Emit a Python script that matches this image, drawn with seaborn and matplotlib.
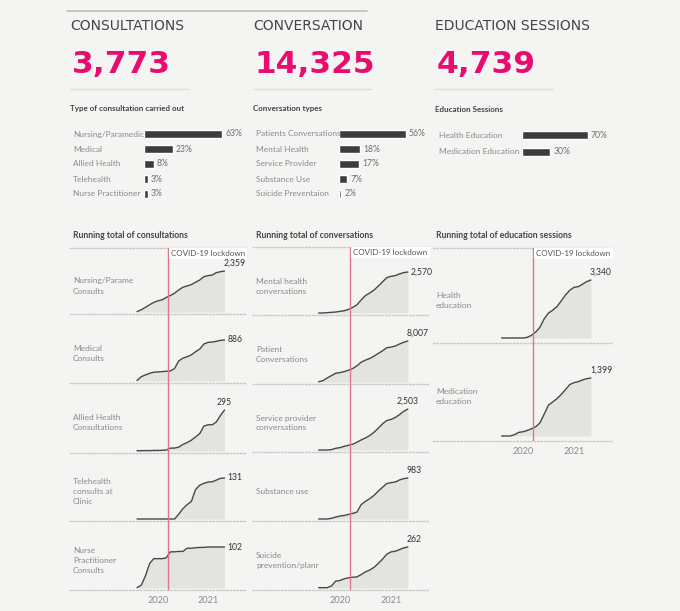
import numpy as np
import pandas as pd
import matplotlib
matplotlib.use("Agg")
import matplotlib.pyplot as plt
import matplotlib.dates as mdates
import matplotlib.transforms as mtransforms
from matplotlib.lines import Line2D
import seaborn as sns

# ---------------- data ----------------
kpi_titles = ["CONSULTATIONS", "CONVERSATION", "EDUCATION SESSIONS"]
kpi_values = ["3,773", "14,325", "4,739"]

bar_titles = ["Type of consultation carried out", "Conversation types", "Education Sessions"]
consult_types = ["Nursing/Paramedic", "Medical", "Allied Health", "Telehealth", "Nurse Practitioner"]
consult_pct = [63, 23, 8, 3, 3]
conv_types = ["Patients Conversations", "Mental Health", "Service Provider", "Substance Use", "Suicide Preventaion"]
conv_pct = [56, 18, 17, 7, 2]
edu_types = ["Health Education", "Medication Education"]
edu_pct = [70, 30]

run_titles = ["Running total of consultations", "Running total of conversations",
              "Running total of education sessions"]
months = ["2019-08", "2019-09", "2019-10", "2019-11", "2019-12", "2020-01", "2020-02",
          "2020-03", "2020-04", "2020-05", "2020-06", "2020-07", "2020-08", "2020-09",
          "2020-10", "2020-11", "2020-12", "2021-01", "2021-02", "2021-03", "2021-04", "2021-05"]
lockdown_date = "2020-03-16"
lockdown_label = "COVID-19 lockdown"
year_ticks = ["2020-01-01", "2021-01-01"]
year_labels = ["2020", "2021"]

col1_labels = ["Nursing/Parame\nConsults", "Medical\nConsults", "Allied Health\nConsultations",
               "Telehealth\nconsults at\nClinic", "Nurse\nPractitioner\nConsults"]
nursing = [20, 133, 266, 418, 551, 646, 703, 836, 950, 1083, 1273, 1425, 1501, 1577, 1710, 1843, 2033, 2090, 2128, 2261, 2318, 2359]
medical = [10, 94, 131, 167, 189, 196, 203, 211, 218, 269, 436, 494, 523, 566, 632, 690, 799, 835, 842, 857, 879, 886]
allied = [2, 2, 3, 3, 4, 4, 5, 7, 21, 21, 28, 47, 61, 78, 101, 125, 179, 189, 189, 208, 255, 295]
telehealth = [0, 0, 0, 0, 0, 0, 0, 0, 0, 0, 16, 33, 46, 56, 94, 108, 114, 118, 119, 124, 130, 131]
nurse_pr = [1, 7, 30, 61, 73, 73, 73, 75, 90, 90, 91, 91, 99, 99, 100, 101, 101, 102, 102, 102, 102, 102]

col2_labels = ["Mental health\nconversations", "Patient\nConversations", "Service provider\nconversations",
               "Substance use", "Suicide\nprevention/planr"]
mental = [0, 0, 21, 41, 62, 103, 144, 226, 349, 514, 823, 1090, 1254, 1439, 1686, 1953, 2220, 2303, 2344, 2447, 2529, 2570]
patient = [30, 262, 787, 1246, 1706, 1837, 2034, 2296, 2624, 3149, 3871, 4264, 4592, 5051, 5576, 6101, 6691, 6822, 7019, 7413, 7741, 8007]
service = [0, 0, 0, 21, 103, 144, 226, 287, 349, 472, 615, 738, 881, 1087, 1333, 1599, 1804, 1866, 1989, 2153, 2358, 2503]
substance = [0, 0, 0, 16, 47, 71, 86, 110, 134, 165, 346, 424, 487, 566, 668, 762, 849, 873, 888, 935, 967, 983]
suicide = [2, 2, 2, 13, 44, 48, 59, 65, 69, 71, 86, 103, 115, 132, 157, 185, 216, 231, 235, 245, 256, 262]

col3_labels = ["Health\neducation", "Medication\neducation"]
health_edu = [0, 0, 0, 0, 0, 0, 38, 153, 344, 611, 1107, 1431, 1604, 1814, 2138, 2481, 2749, 2920, 2959, 3092, 3245, 3340]
med_edu = [0, 0, 0, 32, 87, 103, 134, 174, 221, 316, 529, 743, 822, 901, 1004, 1122, 1241, 1288, 1312, 1351, 1383, 1399]

# ---------------- style ----------------
W, H = 680, 611
BG = "#f4f4f2"
PINK = "#ea0b6e"
RED = "#e0768d"
BAR = "#3d3d3d"
LINE = "#474747"
FILL = "#e3e3e0"
GREY = "#8a8a8a"
DARK = "#444444"
FONT = ["Lato", "DejaVu Sans"]
FS = 6.0

sns.set_theme(style="white")
plt.rcParams["font.family"] = FONT

fig = plt.figure(figsize=(W / 100, H / 100), dpi=100, facecolor=BG)


def add_ax(x0, y0, x1, y1):
    ax = fig.add_axes([x0 / W, 1 - y1 / H, (x1 - x0) / W, (y1 - y0) / H])
    ax.set_facecolor("none")
    return ax


def ftext(x, y, s, **kw):
    fig.text(x / W, 1 - y / H, s, **kw)


def fline(x0, x1, y, **kw):
    fig.add_artist(Line2D([x0 / W, x1 / W], [1 - y / H, 1 - y / H], transform=fig.transFigure, **kw))


# ---------------- KPI header ----------------
fline(67, 367, 11, color="#bdbdbd", lw=1.2)
kpi_x = [70, 253, 435]
for x, t, v in zip(kpi_x, kpi_titles, kpi_values):
    ftext(x, 30, t, family="DejaVu Sans", fontsize=10, color=DARK, va="baseline", ha="left")
    ftext(x + 2, 73, v, family="DejaVu Sans", fontweight="bold", fontsize=22.5, color=PINK,
          va="baseline", ha="left")
    fline(x, x + 118, 89, color="#dcdcdc", lw=1)

# ---------------- bar panels ----------------
bar_specs = [
    dict(tx=70, lx=73, bx=144, scale=1.24, cats=consult_types, vals=consult_pct, y0=134, step=15, bh=8),
    dict(tx=253, lx=256, bx=339, scale=1.19, cats=conv_types, vals=conv_pct, y0=134, step=15, bh=8),
    dict(tx=435, lx=439, bx=522, scale=0.94, cats=edu_types, vals=edu_pct, y0=135, step=17, bh=8.7),
]
for spec, title in zip(bar_specs, bar_titles):
    ftext(spec["tx"], 109, title, fontsize=5.8, fontweight="bold", color=DARK, va="center")
    n = len(spec["cats"])
    top = spec["y0"] - spec["step"] / 2
    bot = spec["y0"] + spec["step"] * (n - 0.5)
    ax = add_ax(spec["bx"], top, spec["bx"] + 100, bot)
    df = pd.DataFrame({"cat": spec["cats"], "pct": spec["vals"]})
    sns.barplot(data=df, x="pct", y="cat", orient="h", ax=ax, color=BAR,
                width=spec["bh"] / spec["step"], saturation=1)
    ax.set_xlim(0, 100 / spec["scale"])
    ax.set_ylim(n - 0.5, -0.5)
    ax.set_axis_off()
    trans = mtransforms.blended_transform_factory(fig.transFigure, ax.transData)
    for i, (c, v) in enumerate(zip(spec["cats"], spec["vals"])):
        ax.text(spec["lx"] / W, i, c, transform=trans, ha="left", va="center",
                fontsize=FS, color=GREY)
        ax.text(v + 3 / spec["scale"], i, f"{v}%", ha="left", va="center",
                fontsize=6.2, color="#707070")

# ---------------- running totals ----------------
dates = pd.to_datetime(months)
lock = pd.Timestamp(lockdown_date)
d20 = mdates.date2num(pd.Timestamp("2020-01-01"))

label_styles = {
    "above_l": dict(dx=-1, dy=3, ha="left", va="bottom"),
    "above_c": dict(dx=0, dy=3, ha="center", va="bottom"),
    "right": dict(dx=3, dy=0, ha="left", va="center"),
}

col_specs = [
    dict(title=run_titles[0], L=70, R=247, p20=158, kpy=50, b=2, d=41,
         rows=[248, 314, 383, 453, 521, 590], labels=col1_labels,
         series=[nursing, medical, allied, telehealth, nurse_pr],
         lstyle=["above_l", "right", "above_c", "right", "right"]),
    dict(title=run_titles[1], L=253, R=430, p20=340, kpy=51, b=2, d=41,
         rows=[247, 315, 384, 452, 521, 590], labels=col2_labels,
         series=[mental, patient, service, substance, suicide],
         lstyle=["right", "above_l", "above_c", "above_l", "above_l"]),
    dict(title=run_titles[2], L=433, R=612, p20=523, kpy=51, b=5, d=58,
         rows=[248, 343, 441], labels=col3_labels,
         series=[health_edu, med_edu],
         lstyle=["above_l", "above_l"]),
]

for cs in col_specs:
    ftext(cs["L"] + 3, 236, cs["title"], fontsize=6.2, fontweight="bold", color=DARK, va="center")
    xl = (d20 + (cs["L"] - cs["p20"]) / cs["kpy"] * 365.25,
          d20 + (cs["R"] - cs["p20"]) / cs["kpy"] * 365.25)
    nrows = len(cs["series"])
    for r in range(nrows):
        y0, y1 = cs["rows"][r], cs["rows"][r + 1]
        h = y1 - y0
        ax = add_ax(cs["L"], y0, cs["R"], y1)
        vals = cs["series"][r]
        df = pd.DataFrame({"date": dates, "value": vals})
        ax.fill_between(df["date"], df["value"], 0, color=FILL, lw=0, zorder=1)
        sns.lineplot(data=df, x="date", y="value", ax=ax, color=LINE, lw=1.0, zorder=3)
        ax.axvline(lock, color=RED, lw=1.0, zorder=4)
        M = max(vals)
        ax.set_xlim(*xl)
        ax.set_ylim(-cs["b"] / cs["d"] * M, (h - cs["b"]) / cs["d"] * M)
        ax.set_xlabel("")
        ax.set_ylabel("")
        ax.set_yticks([])
        for s in ["left", "right", "top"]:
            ax.spines[s].set_visible(False)
        ax.spines["bottom"].set_visible(True)
        ax.spines["bottom"].set_color("#c9c9c9")
        ax.spines["bottom"].set_linestyle((0, (1, 1.5)))
        ax.spines["bottom"].set_linewidth(1)
        if r == 0:
            ax.spines["top"].set_visible(True)
            ax.spines["top"].set_color("#c9c9c9")
            ax.spines["top"].set_linestyle((0, (1, 1.5)))
            ax.spines["top"].set_linewidth(1)
            ax.annotate(lockdown_label, xy=(lock, 1), xycoords=("data", "axes fraction"),
                        xytext=(3, -5.5), textcoords="offset pixels", ha="left", va="center",
                        fontsize=5.8, color="#555555", zorder=6,
                        bbox=dict(boxstyle="square,pad=0.25", fc="white", ec="none"))
        if r == nrows - 1:
            ax.set_xticks(pd.to_datetime(year_ticks))
            ax.set_xticklabels(year_labels)
            ax.tick_params(axis="x", length=0, pad=4, labelsize=6.6, labelcolor=GREY)
        else:
            ax.set_xticks([])
        # row label
        ax.text(3 / (cs["R"] - cs["L"]), 0.5 - 5 / h, cs["labels"][r],
                transform=ax.transAxes, ha="left", va="center", fontsize=FS, color=GREY,
                linespacing=1.5)
        # end value label
        st = label_styles[cs["lstyle"][r]]
        ax.annotate(f"{vals[-1]:,}", xy=(dates[-1], vals[-1]), xytext=(st["dx"], st["dy"]),
                    textcoords="offset pixels", ha=st["ha"], va=st["va"], fontsize=6.2,
                    color="#333333", zorder=6)

fig.savefig("out.png", dpi=100, facecolor=BG)
